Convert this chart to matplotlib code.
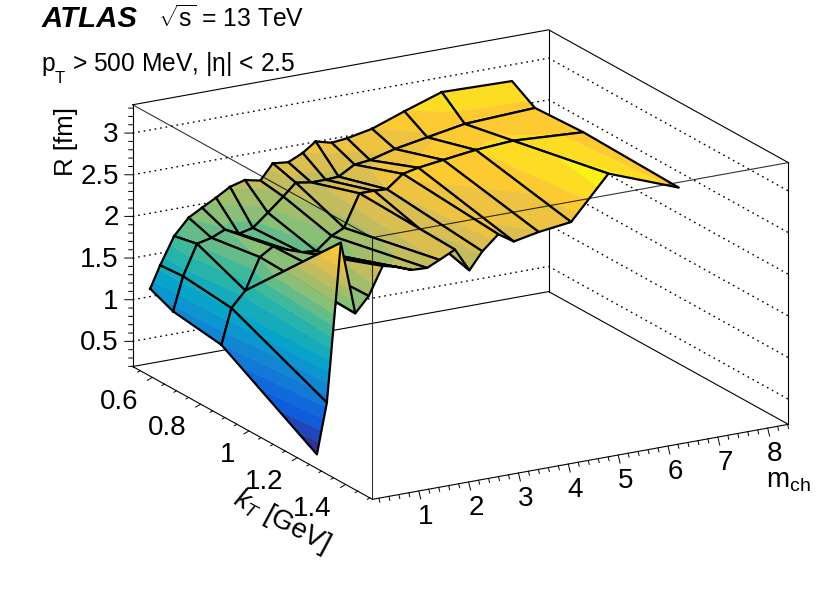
import numpy as np
import matplotlib
matplotlib.use("Agg")
import matplotlib.pyplot as plt
from matplotlib.colors import LinearSegmentedColormap
from mpl_toolkits.mplot3d import proj3d
from mpl_toolkits.mplot3d.art3d import Poly3DCollection

plt.rcParams['font.family'] = ['Liberation Sans', 'DejaVu Sans']
plt.rcParams['mathtext.fontset'] = 'custom'
plt.rcParams['mathtext.rm'] = 'Liberation Sans'
plt.rcParams['mathtext.it'] = 'Liberation Sans:italic'
plt.rcParams['mathtext.bf'] = 'Liberation Sans:bold'

# grid nodes
kt_nodes = [0.55, 0.645, 0.845, 1.24]
mch_nodes = [0.27, 0.47, 0.75, 1.04, 1.31, 1.59, 1.87, 2.17, 2.48, 2.73,
             3.04, 3.33, 3.59, 3.91, 4.22, 4.72, 5.37, 6.12, 7.53]

R_kt0 = [1.16, 1.42, 1.74, 1.93, 2.02, 2.11, 2.21, 2.26, 2.22, 2.40,
         2.38, 2.46, 2.57, 2.52, 2.54, 2.60, 2.74, 2.89, 2.87]
R_kt1 = [1.04, 1.44, 1.80, 1.84, 1.91, 1.83, 1.87, 2.02, 2.18, 2.32,
         2.29, 2.29, 2.30, 2.41, 2.43, 2.51, 2.58, 2.66, 2.70]
R_kt2 = [0.96, 1.38, 1.56, 1.93, 2.03, 1.96, 1.90, 1.88, 2.03, 2.10,
         2.48, 2.48, 2.47, 2.62, 2.66, 2.70, 2.75, 2.78, 2.73]
R_kt3 = [0.28, 0.88, 2.77, 1.89, 2.07, 2.40, 2.36, 2.29, 2.28, 2.35,
         2.44, 2.16, 2.36, 2.53, 2.41, 2.47, 2.52, 3.02, 2.70]

kt_range = (0.519, 1.511)
mch_range = (0.07, 8.415)
r_range = (0.198, 3.34)

kt_major = [0.6, 0.8, 1.0, 1.2, 1.4]
kt_labels = ['0.6', '0.8', '1', '1.2', '1.4']
mch_major = [1, 2, 3, 4, 5, 6, 7, 8]
r_major = [0.5, 1, 1.5, 2, 2.5, 3]
r_labels = ['0.5', '1', '1.5', '2', '2.5', '3']

# ROOT kBird palette
bird = [(0.2081, 0.1663, 0.5292), (0.0592, 0.3598, 0.8683), (0.0780, 0.5041, 0.8385),
        (0.0232, 0.6418, 0.7914), (0.1802, 0.7178, 0.6425), (0.5301, 0.7492, 0.4662),
        (0.8186, 0.7328, 0.3499), (0.9956, 0.7862, 0.1968), (0.9764, 0.9832, 0.0539)]
cmap = LinearSegmentedColormap.from_list('bird', bird)
n_levels = 20


# Cut a polygon (n x 3) to the part with z between lo and hi
def clip_band(poly, lo, hi):
    for sign, lim in ((1, lo), (-1, hi)):
        out = []
        for k in range(len(poly)):
            a, b = poly[k], poly[(k + 1) % len(poly)]
            da, db = sign * (a[2] - lim), sign * (b[2] - lim)
            if da >= 0:
                out.append(a)
            if da * db < 0:
                out.append(a + (b - a) * da / (da - db))
        poly = out
        if len(poly) == 0:
            return poly
    return poly


fig = plt.figure(figsize=(8.30, 5.96), dpi=100)
# square axes, box centre lands on the centre of the box in the reference
W = 713 / 830
H = 713 / 596
ax = fig.add_axes([94.4 / 830, -34.7 / 596, W, H], projection='3d', proj_type='ortho')
ax.set_box_aspect((484, 479, 276))
ax.view_init(elev=18.42, azim=-29.7)
ax.computed_zorder = False
ax.set_axis_off()
ax.patch.set_alpha(0)

k0, k1 = kt_range
m0, m1 = mch_range
z0, z1 = r_range
ax.set_xlim(k0, k1, view_margin=0)
ax.set_ylim(m0, m1, view_margin=0)
ax.set_zlim(z0, z1, view_margin=0)
ax.autoscale(False)


# Tick label at a 3D spot, placed as a plain 2D text
def label3d(x, y, z, s, **kw):
    px, py, _ = proj3d.proj_transform(x, y, z, ax.get_proj())
    ax.text2D(px, py, s, transform=ax.transData, **kw)


# back of the box
for pts in ([(k0, m0, z0), (k0, m1, z0), (k1, m1, z0)],
            [(k0, m0, z1), (k0, m1, z1), (k1, m1, z1)],
            [(k0, m0, z0), (k0, m0, z1)],
            [(k0, m1, z0), (k0, m1, z1)],
            [(k1, m1, z0), (k1, m1, z1)]):
    p = np.array(pts)
    ax.plot(p[:, 0], p[:, 1], p[:, 2], color='k', lw=0.8, zorder=1)

for r in r_major:
    ax.plot([k0, k0, k1], [m0, m1, m1], [r, r, r], color='k', lw=1.0, ls=(0, (1.2, 2.8)), zorder=1)

# axes at the front bottom
ax.plot([k0, k1, k1], [m0, m0, m1], [z0, z0, z0], color='k', lw=0.8, zorder=2)

for kt in np.arange(0.55, 1.51, 0.05):
    s = 1.0 if min(abs(kt - t) for t in kt_major) < 0.01 else 0.5
    ax.plot([kt, kt], [m0, m0 - 0.1 * s], [z0, z0 - 0.025 * s], color='k', lw=0.7, zorder=2)
for m in np.arange(0.2, 8.41, 0.2):
    s = 1.0 if min(abs(m - t) for t in mch_major) < 0.01 else 0.5
    ax.plot([k1, k1 + 0.008 * s], [m, m], [z0, z0 - 0.083 * s], color='k', lw=0.7, zorder=2)
for r in np.arange(0.2, 3.31, 0.1):
    s = 1.0 if min(abs(r - t) for t in r_major) < 0.01 else 0.5
    ax.plot([k0, k0 - 0.0081 * s], [m0, m0 - 0.121 * s], [r, r], color='k', lw=0.7, zorder=2)

for kt, lab in zip(kt_major, kt_labels):
    label3d(kt, m0 - 0.28, z0 - 0.26, lab, fontsize=20, ha='right', va='center')
for m in mch_major:
    label3d(k1 + 0.03, m, z0 - 0.26, str(m), fontsize=20, ha='center', va='center')
for r, lab in zip(r_major, r_labels):
    label3d(k0 - 0.0142, m0 - 0.212, r - 0.025, lab, fontsize=20, ha='right', va='center')

# surface, cell by cell from the back corner to the front corner
kt = np.array(kt_nodes)
mch = np.array(mch_nodes)
R = np.array([R_kt0, R_kt1, R_kt2, R_kt3])
levels = np.linspace(R.min(), R.max(), n_levels + 1)
order = 10
for i in range(len(kt) - 1):
    for j in range(len(mch) - 2, -1, -1):
        corners = np.array([[kt[i], mch[j], R[i, j]],
                            [kt[i], mch[j + 1], R[i, j + 1]],
                            [kt[i + 1], mch[j + 1], R[i + 1, j + 1]],
                            [kt[i + 1], mch[j], R[i + 1, j]]])
        bands, cols = [], []
        for b in range(n_levels):
            poly = clip_band(list(corners), levels[b], levels[b + 1])
            if len(poly) >= 3:
                bands.append(np.array(poly))
                cols.append(cmap((b + 0.5) / n_levels))
        pc = Poly3DCollection(bands, facecolors=cols, edgecolors=cols, linewidths=0.3)
        pc.set_zorder(order)
        ax.add_collection3d(pc)
        loop = np.vstack([corners, corners[:1]])
        ax.plot(loop[:, 0], loop[:, 1], loop[:, 2], color='k', lw=1.6,
                solid_joinstyle='round', zorder=order + 0.5)
        order += 1

# front of the box goes over the surface
ax.plot([k0, k1, k1], [m0, m0, m1], [z1, z1, z1], color='k', lw=0.8, alpha=0.8, zorder=order)
ax.plot([k1, k1], [m0, m0], [z0, z1], color='k', lw=0.8, alpha=0.8, zorder=order)


def px_text(x, y, s, **kw):
    fig.text(x / 830, 1 - y / 596, s, **kw)


px_text(42, 27, 'ATLAS', fontsize=21.2, fontweight='bold', fontstyle='italic', va='baseline')
px_text(158, 27, r'$\sqrt{\mathrm{s}}$ = 13 TeV', fontsize=17.8, va='baseline')
px_text(41, 71, 'p', fontsize=17.7, va='baseline')
px_text(55, 83, 'T', fontsize=12, va='baseline')
px_text(72, 71, r'> 500 MeV, |$\mathrm{\eta}$| < 2.5', fontsize=17.7, va='baseline')
px_text(66, 141, 'R [fm]', fontsize=18.5, rotation=90, ha='center', va='center')
px_text(281.5, 521, r'$k_{T}$ [GeV]', fontsize=20, rotation=-28, ha='center', va='center',
        rotation_mode='anchor')
px_text(766, 487, r'm$_{\mathrm{ch}}$', fontsize=20, va='baseline')

fig.savefig('out.png', dpi=100)
